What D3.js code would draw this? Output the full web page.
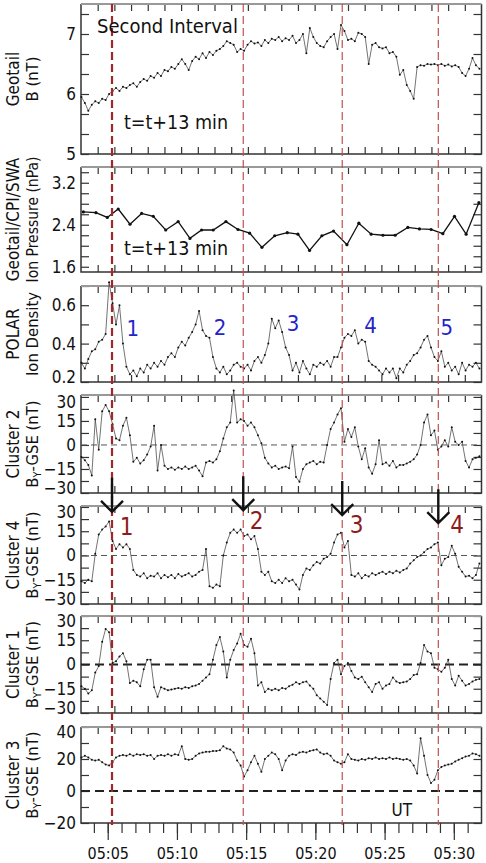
<!DOCTYPE html>
<html>
<head>
<meta charset="utf-8">
<script src="https://cdn.jsdelivr.net/npm/d3@7"></script>
<style>
body { margin: 0; background: #fff; }
svg { display: block; font-family: 'DejaVu Sans Condensed', 'DejaVu Sans', sans-serif; }
.tick line { stroke: #333; stroke-width: 1.2; }
</style>
</head>
<body>
<svg id="plot" width="486" height="863"></svg>
<script>
var t0 = 3.1, dt = 0.25;

var geotailB = [5.95,5.85,5.72,5.82,5.88,5.85,5.92,5.9,6.0,6.05,
    6.1,6.05,6.12,6.1,6.15,6.18,6.12,6.2,6.25,6.22,
    6.3,6.27,6.35,6.3,6.4,6.38,6.45,6.42,6.5,6.58,
    6.5,6.4,6.55,6.62,6.58,6.68,6.6,6.7,6.65,6.72,
    6.75,6.8,6.88,6.85,6.82,6.7,6.75,6.72,6.82,6.88,
    6.84,6.86,6.8,6.9,6.85,6.92,6.9,6.95,6.88,6.93,
    6.9,6.97,6.85,6.9,7.0,6.68,7.1,6.95,6.85,6.8,
    6.78,6.88,6.95,7.0,6.75,7.15,7.05,6.9,6.92,6.88,
    7.02,7.0,6.95,6.5,6.82,6.85,6.78,6.76,6.78,6.68,
    6.7,6.62,6.32,6.4,6.15,6.05,5.92,6.45,6.48,6.47,
    6.5,6.49,6.5,6.48,6.5,6.47,6.49,6.46,6.48,6.45,
    6.35,6.3,6.42,6.6,6.48,6.42];

// ion pressure has its own (coarser) sample times
var pressTime = [3.24,4.15,4.97,5.76,6.61,7.45,8.29,9.19,10.09,10.94,11.78,12.62,13.54,14.41,15.25,16.14,17.06,
    17.97,18.74,19.58,20.47,21.31,22.28,23.14,24.03,24.88,25.76,26.68,27.52,28.36,29.21,30.05,30.89,31.81];
var pressure = [2.645,2.63,2.54,2.70,2.41,2.615,2.56,2.30,2.46,2.14,2.30,2.30,2.46,2.31,2.24,1.97,2.19,
    2.25,2.22,1.91,2.19,2.28,2.02,2.43,2.22,2.20,2.20,2.35,2.32,2.31,2.23,2.56,2.22,2.82];

var polarDensity = [0.3,0.27,0.32,0.36,0.37,0.41,0.42,0.45,0.72,0.61,
    0.5,0.6,0.4,0.28,0.24,0.26,0.23,0.27,0.25,0.29,
    0.27,0.3,0.28,0.31,0.29,0.33,0.35,0.33,0.38,0.41,
    0.39,0.43,0.46,0.5,0.57,0.47,0.44,0.43,0.33,0.27,
    0.25,0.28,0.24,0.26,0.29,0.3,0.28,0.27,0.29,0.26,
    0.31,0.33,0.3,0.34,0.4,0.53,0.48,0.52,0.46,0.38,
    0.34,0.26,0.3,0.25,0.31,0.27,0.24,0.29,0.28,0.3,
    0.29,0.31,0.28,0.33,0.33,0.38,0.43,0.45,0.44,0.47,
    0.4,0.42,0.41,0.31,0.29,0.28,0.26,0.24,0.27,0.25,
    0.27,0.22,0.27,0.25,0.29,0.31,0.34,0.35,0.38,0.42,
    0.44,0.38,0.33,0.31,0.36,0.28,0.3,0.26,0.28,0.24,
    0.3,0.26,0.29,0.28,0.3,0.27];

var cluster2By = [-7.5,-9.5,-12.5,-19,16,-3,21,25,21,13,
    4,3,12,17,6,-10.5,-8,-11.5,-9.5,-6,
    -1,12,-16,0,-13,-15,-14,-15.5,-14,-15,
    -13.5,-15,-14,-13,-16,-19.5,-11,-10,-11,-9,
    -4,4,11,14,34,14,16,15,12,14,
    11,6,1,-8,-11.5,-14,-13,-15,-14,-13.5,
    -14.5,-1,-20,-23,-15,-12,-11,-10,-12,-10.5,
    -11,0,10,14,19,23,2,10,5,11,
    -1,-9,-2,-14,-18,-12,3,-12,-11,-13,
    -10,-14,-12.5,-12.5,-11.5,-10.5,-9,-6,0,14,
    19,6,9,-3,-1,3,-1,11,2,0,
    2,-10,-14,-9,-8,-7];

var cluster4By = [-16,-17,-15,-16,1,13,16,18,21,9,
    4,7,5,7,4,-9,-12,-13,-11,-14,
    -12.5,-13,-11,-14,-12,-13.5,-12,-14,-11.5,-13,
    -12,-11,-13,-12,-10,-9,4,-19,-20,-18,
    -19,0,8,14,16,14,16,12,13,10,
    12,4,-10,-12,-10,-16,-17,-15,-17,-14,
    -16,-15,-18,-21,-12,-8,-9,-6,-4,-5,
    -2,-1,1,8,13,14,5,9,-12,-13,
    -11,-14,-12,-13,-11,-12,-11,-10,-11.5,-10,
    -11,-9.5,-10.5,-9,-8,-5,-3,-1,0,2,
    4,5,7,8,-6,-2,-1,6,1,-7,
    -10,-13,-12.5,-14,-12,-5];

var cluster1By = [-13.5,-15,-18,-16,-5,-1,14,22,20,1,
    2,5,7,2,-11.5,-10,-11,-13.5,-3,3,
    3,-14,-20,-14,-15,-16,-15.5,-15,-14.5,-15,
    -14,-14.5,-13.5,-13,-12,-10,-8,-6,3,12,
    17,8,-8,3,9,13,19,12,11,16,
    7,-13,-11,-17,-15,-16,-15,-16,-14.5,-15,
    -13.5,-12.5,-11,-12,-11,-10.5,-13,-15,-19,-21,
    -23,-25,-9,1,3,-6,-1,1,-4,-8,
    -9,-7.5,-11,-14,-17,-12,-11,-15,-13,-12,
    -8,-10.5,-11.5,-11,-10.5,-9,-6.5,-6,1,12,
    8,7,-2,-3,-4.5,-2,3,-9,-13,-7,
    -10,-13,-12,-10.5,-9.5,-9];

var cluster3By = [21,22,21,19.5,19,19.5,18,16.5,16,18,
    21,22,22.5,22,23,22,23,22.5,23,22,
    22.5,20,22,22.5,22,23,22,23,22.5,28,
    20,19.5,20,22,23.5,24,24.5,24.5,25,25,
    25.5,28,26.5,26,24,19,16,9,13,18,
    22,17,12,20,22,24,23,20,13,19,
    22,23,22.5,24,24.5,24,25,25.5,26,24,
    23,23.5,22,19,18,17,18,23,20,19.5,
    19,20,19.5,20.5,20,21,20,20.5,20,21,
    20,20.5,20,19.5,20,19,16,11,33,22,
    10,5,7,13,15,16,16.5,17,18.5,19.5,
    20.5,21.5,22,23.5,23,22];

// event times (red dashed lines) and the labels hung on them
var eventTimes = [5.31, 14.79, 21.94, 28.88];
var arrowTips = [27, 28, 25, 20];            // Cluster 4 units
var polarNumTimes = [6.82, 13.11, 18.38, 23.99, 29.50];
var polarNumVals = [0.477, 0.486, 0.506, 0.493, 0.486];
var c4NumTimes = [6.37, 15.76, 22.98, 30.24];
var c4NumVals = [17.6, 21.3, 18.9, 18.9];
var utMajor = [5, 10, 15, 20, 25, 30];

d3.select(window).on('load', init);

function init() {
    var svg = d3.select('#plot');
    var left = 81, right = 481.5;
    var font = "'DejaVu Sans Condensed', 'DejaVu Sans', sans-serif";

    var x = d3.scaleLinear().domain([3.07, 32]).range([left, right]);
    var grid = d3.scaleLinear().domain([0, 24]).range([left, right]); // frame ticks of the panels

    var minus = function(v) { return (v < 0 ? '\u2212' : '') + Math.abs(v); };

    var panels = [
        {top: 4, bottom: 154, domain: [5, 7.5], from: 5, step: 1/3, labels: [5, 6, 7],
            fmt: minus, title: ['Geotail', 'B (nT)'], data: geotailB},
        {top: 167, bottom: 272, domain: [1.5, 3.5], from: 1.6, step: 0.2, labels: [1.6, 2.4, 3.2],
            fmt: d3.format('.1f'), title: ['Geotail/CPI/SWA', 'Ion Pressure (nPa)'], data: pressure, times: pressTime, bold: true},
        {top: 286, bottom: 382, domain: [0.2, 0.7], from: 0.2, step: 0.1, labels: [0.2, 0.4, 0.6],
            fmt: d3.format('.1f'), title: ['POLAR', 'Ion Density'], data: polarDensity},
        {top: 395, bottom: 493, domain: [-30, 31.2], from: -30, step: 7.5, labels: [-30, -15, 0, 15, 30],
            fmt: minus, title: ['Cluster 2', null], data: cluster2By, zero: 'thin'},
        {top: 506, bottom: 604, domain: [-30, 30.6], from: -30, step: 7.5, labels: [-30, -15, 0, 15, 30],
            fmt: minus, title: ['Cluster 4', null], data: cluster4By, zero: 'thin'},
        {top: 616, bottom: 713, domain: [-30, 30], from: -30, step: 7.5, labels: [-30, -15, 0, 15, 30],
            fmt: minus, title: ['Cluster 1', null], data: cluster1By, zero: 'thick'},
        {top: 727, bottom: 823, domain: [-20, 40], from: -20, step: 10, labels: [-20, 0, 20, 40],
            fmt: minus, title: ['Cluster 3', null], data: cluster3By, zero: 'thick', last: true}
    ];

    panels.forEach(function(p) {
        p.y = d3.scaleLinear().domain(p.domain).range([p.bottom, p.top]);
        var g = svg.append('g');
        var ticks = d3.range(p.from, p.domain[1] + 1e-6, p.step);

        // left axis, ticks pointing in
        var ax = g.append('g').attr('transform', 'translate(' + left + ',0)')
            .call(d3.axisLeft(p.y).tickValues(ticks).tickSizeInner(-8).tickSizeOuter(0).tickPadding(5)
                .tickFormat(function(v) {
                    var hit = p.labels.some(function(l) { return Math.abs(l - v) < 1e-6; });
                    return hit ? p.fmt(Math.round(v * 10) / 10) : '';
                }));
        ax.select('.domain').remove();
        ax.selectAll('text').attr('font-size', 17).attr('fill', '#111').attr('font-family', font)
            .attr('dy', function(v) {
                // squeeze the end labels a little so neighbouring panels' labels do not collide
                if (Math.abs(p.y(v) - p.top) < 3 && p.top > 300) return '0.6em';
                if (Math.abs(p.y(v) - p.bottom) < 1 && !p.last && p.bottom > 300) return '0.05em';
                return '0.32em';
            });

        var ar = g.append('g').attr('transform', 'translate(' + right + ',0)')
            .call(d3.axisRight(p.y).tickValues(ticks).tickSize(-8).tickFormat(''));
        ar.select('.domain').remove();

        var at = g.append('g').attr('transform', 'translate(0,' + p.top + ')')
            .call(d3.axisTop(grid).tickValues(d3.range(1, 24)).tickSize(-7).tickFormat(''));
        at.select('.domain').remove();

        if (!p.last) {
            var ab = g.append('g').attr('transform', 'translate(0,' + p.bottom + ')')
                .call(d3.axisBottom(grid).tickValues(d3.range(1, 24)).tickSize(-7).tickFormat(''));
            ab.select('.domain').remove();
        }

        // frame
        g.append('path')
            .attr('d', 'M' + left + ',' + p.top + 'V' + p.bottom + 'H' + right + 'V' + p.top)
            .attr('fill', 'none').attr('stroke', '#333').attr('stroke-width', 1.5);
        g.append('line')
            .attr('x1', left).attr('x2', right).attr('y1', p.top).attr('y2', p.top)
            .attr('stroke', '#999').attr('stroke-width', 2);

        if (p.zero) {
            g.append('line')
                .attr('x1', left).attr('x2', right).attr('y1', p.y(0)).attr('y2', p.y(0))
                .attr('stroke', p.zero == 'thin' ? '#555' : '#222')
                .attr('stroke-width', p.zero == 'thin' ? 1 : 1.8)
                .attr('stroke-dasharray', p.zero == 'thin' ? '6,4' : '9,5');
        }

        // trace: thin line joining small dots
        var pts = p.data.map(function(v, i) {
            return {t: p.times ? p.times[i] : t0 + i * dt, v: v};
        });
        var line = d3.line()
            .x(function(d) { return x(d.t); })
            .y(function(d) { return p.y(d.v); });
        g.append('path').datum(pts).attr('d', line).attr('fill', 'none')
            .attr('stroke', p.bold ? '#111' : '#444').attr('stroke-width', p.bold ? 1.3 : 0.75);
        g.selectAll('circle.pt').data(pts).enter().append('circle')
            .attr('class', 'pt')
            .attr('cx', function(d) { return x(d.t); })
            .attr('cy', function(d) { return p.y(d.v); })
            .attr('r', p.bold ? 1.6 : 1)
            .attr('fill', '#111');

        // two-line rotated title
        var cy = (p.top + p.bottom) / 2;
        g.append('text')
            .attr('transform', 'translate(19,' + cy + ') rotate(-90)')
            .attr('text-anchor', 'middle').attr('font-size', 17).attr('fill', '#111')
            .text(p.title[0]);
        var t2 = g.append('text')
            .attr('transform', 'translate(38,' + cy + ') rotate(-90)')
            .attr('text-anchor', 'middle').attr('font-size', p.title[1] && p.title[1].length > 12 ? 15.5 : 16.5)
            .attr('fill', '#111');
        if (p.title[1]) {
            t2.text(p.title[1]);
        } else {
            t2.append('tspan').text('B');
            t2.append('tspan').attr('font-size', 11).attr('dy', 3).text('Y');
            t2.append('tspan').attr('dy', -3).text('-GSE (nT)');
        }
    });

    var last = panels[panels.length - 1];

    // UT axis at the bottom, ticks pointing out
    var minorAx = svg.append('g').attr('transform', 'translate(0,' + last.bottom + ')')
        .call(d3.axisBottom(x).tickValues(d3.range(4, 32)).tickSize(10).tickFormat(''));
    minorAx.select('.domain').remove();
    var majorAx = svg.append('g').attr('transform', 'translate(0,' + last.bottom + ')')
        .call(d3.axisBottom(x).tickValues(utMajor).tickSize(17).tickPadding(8)
            .tickFormat(function(m) { return '05:' + d3.format('02d')(m); }));
    majorAx.select('.domain').remove();
    majorAx.selectAll('text').attr('font-size', 16).attr('fill', '#111').attr('font-family', font);

    // red dashed event lines
    svg.selectAll('line.event').data(eventTimes).enter().append('line')
        .attr('class', 'event')
        .attr('x1', function(d) { return x(d); })
        .attr('x2', function(d) { return x(d); })
        .attr('y1', panels[0].top).attr('y2', last.bottom + 2)
        .attr('stroke', function(d, i) { return i == 0 ? '#a3262a' : '#c0504d'; })
        .attr('stroke-width', function(d, i) { return i == 0 ? 2.2 : 1.2; })
        .attr('stroke-dasharray', '8,4');

    // arrows into Cluster 4
    var c4 = panels[4];
    eventTimes.forEach(function(t, i) {
        var ax = x(t), tip = c4.y(arrowTips[i]);
        svg.append('path')
            .attr('d', 'M' + ax + ',' + (tip - 34) + 'V' + tip +
                'M' + (ax - 11) + ',' + (tip - 11) + 'L' + ax + ',' + tip + 'L' + (ax + 11) + ',' + (tip - 11))
            .attr('fill', 'none').attr('stroke', '#111').attr('stroke-width', 2.4);
    });

    // numbered intervals
    var polar = panels[2];
    svg.selectAll('text.pnum').data(polarNumTimes).enter().append('text')
        .attr('class', 'pnum')
        .attr('x', function(d) { return x(d); })
        .attr('y', function(d, i) { return polar.y(polarNumVals[i]); })
        .attr('text-anchor', 'middle').attr('dominant-baseline', 'central')
        .attr('font-size', 22).attr('fill', '#2424c8')
        .text(function(d, i) { return i + 1; });
    svg.selectAll('text.cnum').data(c4NumTimes).enter().append('text')
        .attr('class', 'cnum')
        .attr('x', function(d) { return x(d); })
        .attr('y', function(d, i) { return c4.y(c4NumVals[i]); })
        .attr('text-anchor', 'middle').attr('dominant-baseline', 'central')
        .attr('font-size', 24).attr('fill', '#8b1c1e')
        .text(function(d, i) { return i + 1; });

    // annotations
    svg.append('text').attr('x', x(4.23)).attr('y', panels[0].y(7.02))
        .attr('font-size', 20).attr('fill', '#111').text('Second Interval');
    svg.append('text').attr('x', x(6.17)).attr('y', panels[0].y(5.41))
        .attr('font-size', 19.5).attr('fill', '#111').text('t=t+13 min');
    svg.append('text').attr('x', x(6.17)).attr('y', panels[1].y(1.83))
        .attr('font-size', 19.5).attr('fill', '#111').text('t=t+13 min');
    svg.append('text').attr('x', x(25.5)).attr('y', last.y(-15.6))
        .attr('font-size', 17).attr('fill', '#111').text('UT');
}
</script>
</body>
</html>
